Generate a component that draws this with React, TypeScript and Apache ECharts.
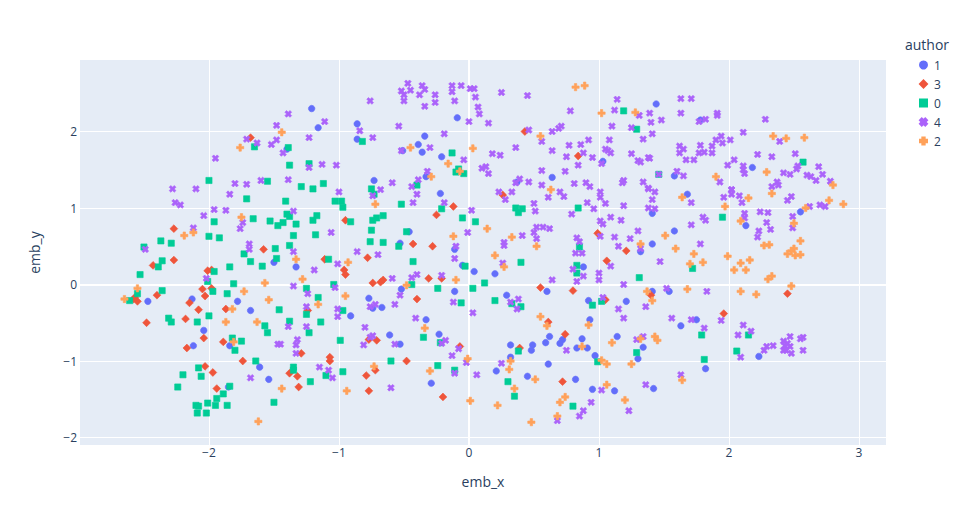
import React, { useEffect, useRef } from "react";
import * as echarts from "echarts";

const xTicks = [-2, -1, 0, 1, 2, 3];
const yTicks = [-2, -1, 0, 1, 2];
const legendOrder = ["1", "3", "0", "4", "2"];

const author1 = [
  [-1.4,1.77],[-1.21,2.3],[-1.16,2.05],[-.86,2.1],[-.86,1.9],[-.34,1.94],[-.39,1.83],[-.36,1.73],[-.21,1.67],[-.09,2.18],[-.51,1.75],[-.33,1.41],[-.73,1.36],
  [1.44,2.36],[1.03,1.61],[.64,1.4],[.37,1.34],[1.58,1.42],[1.78,2.15],[2.18,1.53],
  [-1.5,.29],[-2.47,-.22],[-2.13,-.19],[-1.78,-.22],[-1.68,-.34],
  [-.22,1.19],[-.46,.69],[-.53,.54],[-.11,.46],[-.05,.25],[.04,.17],[-1.33,.23],[-.52,-.06],[-.11,-.09],[-.77,-.18],[-.74,-.31],[-.67,-.3],[-.91,-.41],
  [1.41,.93],[1.58,.7],[1.41,.53],[1.32,.43],[.88,.23],[.2,.14],[.6,-.09],[.29,-.14],[.92,-.21],[1.21,-.22],[1.41,-.09],[1.54,-.09],[1.68,1.18],
  [2.55,.95],[2.13,.77],
  [-2.04,-.6],[-2.12,-.8],[-1.84,-.8],[-1.61,-1.08],[-1.54,-1.24],[-1.85,-1.34],
  [-.61,-.66],[-.53,-.78],[-.33,-.46],[-.23,-.65],[-.29,-1.29],
  [.93,-.46],[.62,-.68],[.72,-.72],[.7,-.77],[.59,-.76],[.49,-.79],[.48,-.86],[.32,-.79],[.32,-.95],[.87,-.71],[.83,-.83],[.91,-.83],[1.14,-.68],[1.34,-.82],[1.3,-.97],[.97,-.93],[.61,-1.04],[.21,-1.13],[.45,-1.2],[.82,-1.24],[.95,-1.37],[1.12,-1.39],[1.42,-1.36],[1.63,-.54],
  [1.75,-.46],[2.23,-.94],[1.82,-1.1],
];

const author3 = [
  [-1.68,1.92],[.43,2.0],[.84,1.68],
  [-2.27,.73],[-1.58,.46],[-2.27,.32],[-2.43,.25],[-2.01,.18],[-1.98,.19],[-2.05,-.06],[-1.98,-.05],[-2.03,-.15],[-2.4,-.14],[-2.57,-.17],[-2.55,-.22],[-2.58,-.19],[-2.15,-.24],[-2.08,-.33],[-1.87,-.32],
  [-.12,1.02],[-.25,.91],[-.95,.84],[-.43,.53],[-.28,.5],[-.78,.35],[-1.11,.33],[-.96,.19],[-.95,.13],[-.74,.02],[-.68,.03],[-.66,.06],[-.31,.08],[-.21,.08],[-.4,-.19],[-1.24,-.34],
  [.26,1.17],[.99,.67],[1.21,.44],[1.06,.31],[.55,-.04],[.8,-.08],[1.4,-.14],[1.05,-.2],
  [2.45,-.12],[1.96,-.38],
  [-2.48,-.5],[-2.18,-.45],[-2.04,-.7],[-2.17,-.83],[-1.89,-.75],[-1.74,-1.0],[-2.03,-1.07],[-1.97,-1.15],[-1.94,-1.36],[-1.38,-1.16],
  [-1.32,-1.2],[-1.31,-1.34],[-1.29,-.9],[-1.07,-.95],[-1.07,-1.0],[-.77,-.72],[-.71,-.73],[-.72,-1.12],[-.79,-1.19],[-.77,-1.39],[-.48,-1.0],[-.2,-1.47],[-.07,-.81],
  [.61,-.49],[.74,-.65],[.39,-.83],[.72,-1.27],
];

const author0 = [
  [-1.65,1.8],[-1.39,1.79],[-1.38,1.56],[-2.0,1.36],[-1.55,1.35],
  [-.82,1.87],[-1.23,1.58],[-.13,1.72],[-.08,1.51],[-.1,1.47],[-.04,1.45],[-1.29,1.28],[-1.2,1.25],[-1.12,1.32],[-.75,1.25],[-.4,1.3],
  [1.19,2.27],[1.29,2.03],[1.46,1.44],[2.57,1.6],
  [-1.71,1.12],[-1.41,1.09],[-1.4,.92],[-1.66,.86],[-1.96,.82],[-1.53,.83],[-1.43,.81],[-1.47,.77],[-2.0,.63],[-1.92,.61],[-2.37,.57],[-2.29,.54],[-2.5,.49],[-1.49,.47],[-1.38,.51],[-1.73,.4],[-2.36,.31],[-2.39,.23],[-1.48,.34],[-1.68,.3],[-1.84,.23],[-1.59,.24],[-1.96,.17],[-2.53,.13],[-2.01,.04],[-1.81,.01],[-1.97,-.09],[-1.86,-.12],[-2.36,-.08],[-2.55,-.12],[-2.61,-.21],[-1.46,-.33],[-2.0,-.41],
  [-.73,1.18],[-1.03,1.09],[-.98,1.09],[-.97,1.01],[-.52,1.05],[-.21,.99],[-1.38,.89],[-1.33,.79],[-1.2,.84],[-1.17,.9],[-1.35,.64],[-1.18,.65],[-.74,.84],[-.71,.87],[-.66,.9],[-.91,.82],[-.75,.71],[-.76,.56],[-.66,.55],[-.54,.5],[-.48,.69],[-1.08,.33],[-.43,.3],[-.05,.87],[.05,.82],[-.03,.24],[-1.04,0],[-1.25,-.05],[-.44,0],[-.24,-.05],[.03,-.05],[.12,.02],[-1.16,-.17],[-.06,-.24],[-.97,-.34],[-1.25,-.39],
  [.36,1.0],[.41,.99],[.38,.94],[.84,1.0],[.85,.49],[.4,.29],[.83,.25],[.83,.15],[1.31,.09],[.2,-.21],[.33,-.25],[.4,-.29],[.95,-.27],[1.02,-.22],
  [1.95,.88],[1.72,.21],
  [-2.31,-.44],[-2.29,-.49],[-2.09,-.49],[-1.57,-.54],[-1.38,-.48],[-1.55,-.63],[-1.82,-.7],[-1.75,-.74],[-1.8,-.86],[-1.64,-1.0],[-2.08,-1.09],[-2.2,-1.18],[-2.06,-1.2],[-2.24,-1.34],[-1.84,-1.33],[-1.89,-1.43],[-1.94,-1.49],[-2.01,-1.55],[-1.95,-1.58],[-1.86,-1.58],[-2.1,-1.58],[-2.08,-1.59],[-2.09,-1.68],[-2.02,-1.68],[-1.5,-1.54],
  [-1.14,-.49],[-1.23,-.63],[-.99,-.73],[-.35,-.69],[-.22,-.76],[-.6,-1.0],[-1.35,-1.08],[-1.35,-1.12],[-.97,-1.14],[-1.1,-1.19],[-1.22,-1.27],[-.24,-1.06],[-.11,-1.12],
  [.38,-.87],[.99,-1.01],[1.29,-.89],[.3,-1.27],[.35,-1.46],[.8,-1.59],
  [1.79,-.66],[2.15,-.66],[2.06,-.87],[1.81,-.98],
];

const author4 = [
  [-1.39,2.23],[-1.48,2.08],[-1.71,1.9],[-1.63,1.85],[-1.52,1.83],[-1.48,1.89],[-1.43,1.72],[-1.95,1.65],[-1.8,1.32],[-1.71,1.31],[-1.6,1.36],[-1.39,1.37],[-2.28,1.25],[-2.1,1.25],
  [-.47,2.63],[-.36,2.6],[-.34,2.55],[-.45,2.54],[-.52,2.53],[-.5,2.48],[-.38,2.48],[-.5,2.4],[-.76,2.4],[-.34,2.33],[-.26,2.48],[-.26,2.38],[-.13,2.6],[-.13,2.52],[-.06,2.6],[.01,2.56],[.04,2.56],[-.11,2.4],[.05,2.45],[.07,2.32],[.08,2.23],[0,2.13],[.15,2.11],[-1.11,2.13],[-.54,2.07],[-.84,2.01],[-.74,1.92],[-.19,1.97],[-1.23,1.92],[-.3,1.79],[-.52,1.75],[-.04,1.63],[-1.23,1.53],[-1.13,1.57],[-1.02,1.56],[.1,1.52],[.13,1.54],[.15,1.45],[-.32,1.48],[-.39,1.37],[-.59,1.33],[-.44,1.28],[-.68,1.24],
  [.25,2.51],[.45,2.47],[.78,2.27],[1.14,2.42],[1.12,2.28],[1.63,2.43],[1.31,2.21],[1.39,2.24],[1.63,2.24],[1.4,2.12],[1.48,2.15],[1.1,2.07],[1.25,2.05],[.46,2.02],[.64,2.0],[.69,2.04],[.71,2.07],[.56,1.87],[1.41,1.97],[1.34,1.9],[1.08,1.89],[.92,1.89],[.86,1.83],[.77,1.82],[.36,1.79],[.64,1.75],[.18,1.71],[.24,1.69],[.88,1.72],[.75,1.67],[.95,1.66],[1.05,1.77],[1.07,1.75],[1.09,1.72],[1.25,1.71],[1.3,1.62],[1.32,1.6],[1.38,1.66],[1.39,1.65],[1.62,1.81],[1.65,1.77],[1.62,1.72],[1.67,1.63],[.84,1.56],[1.02,1.58],[.56,1.49],[.74,1.48],[1.6,1.48],[1.65,1.42],[1.46,1.44],[.39,1.38],[.36,1.33],[.46,1.34],[.56,1.3],[.81,1.32],[.9,1.33],[.93,1.28],[1.19,1.36],[1.18,1.33],[1.34,1.34],[1.38,1.26],
  [1.71,2.43],[1.91,2.24],[1.91,2.21],[1.82,2.16],[1.77,2.13],[2.28,2.16],[2.11,1.99],[1.94,1.94],[1.9,1.89],[1.95,1.85],[2.01,1.89],[1.78,1.82],[1.87,1.81],[1.77,1.72],[1.81,1.73],[1.87,1.72],[1.73,1.63],[2.04,1.63],[1.99,1.56],[2.11,1.55],[2.11,1.5],[2.12,1.45],[1.93,1.34],[2.02,1.24],[2.22,1.7],[2.33,1.67],[2.39,1.87],[2.51,1.71],[2.69,1.54],[2.53,1.55],[2.52,1.51],[2.42,1.46],[2.47,1.44],[2.6,1.43],[2.63,1.41],[2.72,1.44],[2.67,1.36],[2.78,1.35],[2.37,1.34],[2.38,1.3],[2.33,1.28],
  [-1.84,1.18],[-2.26,1.07],[-2.22,1.04],[-1.96,.98],[-1.87,.97],[-2.04,.9],[-1.74,.81],[-1.76,.73],[-2.12,.74],[-2.49,.46],[-1.69,.53],[-1.69,.46],[-2.02,.08],
  [-1.0,1.21],[-.74,1.16],[-.4,1.18],[-.43,1.07],[-.19,1.07],[.02,.97],[-1.35,.96],[-1.06,.68],[-.01,.68],[-.1,.5],[-.86,.43],[-.7,.39],[-1.35,.43],[-.11,.34],[-1.01,.27],[-1.19,.19],[-.59,.08],[-.44,.09],[-.4,.13],[-.21,.12],[-1.35,-.02],[-1.03,-.04],[-1.24,-.12],[-.53,-.14],[-.57,-.26],[-.72,-.26],[-.76,-.29],[-.12,-.23],[-1.25,-.29],[-1.01,-.32],[.03,-.37],
  [.23,1.21],[.33,1.21],[.28,1.11],[.7,1.21],[.73,1.15],[.61,1.14],[.5,1.06],[.51,.96],[.91,1.07],[.96,.99],[1.01,1.21],[1.01,1.14],[1.05,1.06],[1.19,1.03],[1.38,1.25],[1.43,1.21],[1.41,1.11],[1.38,1.0],[1.43,.99],[.79,.92],[1.09,.88],[1.17,.84],[1.01,.83],[1.03,.79],[1.3,.7],[.52,.75],[.57,.75],[.62,.73],[.5,.68],[.41,.64],[.52,.6],[.83,.61],[.85,.56],[1.01,.63],[1.12,.62],[1.24,.6],[.27,.55],[.27,.51],[1.15,.5],[1.32,.47],[.82,.41],[.87,.41],[1.47,.3],[.26,.28],[1.09,.24],[.8,.2],[.88,.11],[1,.15],[1,.06],[.64,.06],[.83,.04],[1.19,0],[1.52,-.05],[.38,-.19],[.32,-.23],[.37,-.32],[1.03,-.17],[1.15,-.32],[1.36,-.29],[1.71,1.07],[1.71,.78],
  [2.02,1.24],[2.02,1.18],[1.96,1.14],[2.08,1.16],[2.1,1.07],[2.45,1.1],[2.48,1.15],[2.62,1.02],[2.7,1.04],[2.74,1.02],[2.12,.93],[2.12,.87],[1.8,.88],[1.82,.84],[2.24,.95],[2.3,.94],[2.49,.89],[2.29,.81],[2.23,.7],[2.32,.72],[2.49,.74],[2.22,.62],[1.78,.53],[1.83,-.09],
  [-1.39,-.55],[-1.47,-.78],[-1.45,-.78],[-1.68,-1.22],
  [-1.01,-.42],[-.41,-.44],[-1.25,-.55],[-.8,-.56],[-.76,-.69],[-.74,-.67],[-.81,-.79],[-.57,-.78],[-.18,-.73],[-.21,-.77],[-.08,-.84],[-.13,-.93],[-.02,-1.02],[-1.32,-.72],[-1.33,-.79],[-1.33,-.9],[-1.15,-1.08],[-1.08,-1.12],[-1.05,-1.22],[-.11,-1.16],[.06,-1.18],[-.6,-1.35],
  [1.19,-.44],[1.56,-.44],[.75,-.86],[1.29,-.72],[1.34,-.68],[.25,-1.03],[1.63,-1.18],[1.36,-1.31],[1.02,-1.38],[.94,-1.54],[1.23,-1.65],[.88,-1.65],[.85,-1.72],[.68,-1.78],
  [1.71,-.46],[1.81,-.57],[1.94,-.47],[2.11,-.53],[2.17,-.61],[2.07,-.66],[2.09,-.95],[2.27,-.86],[2.29,-.81],[2.34,-.8],[2.42,-.74],[2.47,-.68],[2.57,-.69],[2.55,-.71],[2.57,-.86],[2.45,-.77],[2.47,-.81],[2.43,-.8],[2.42,-.86],[2.44,-.86],[2.48,-.9],
];

const author2 = [
  [-1.44,1.99],[-1.76,1.79],[-.45,1.79],[.03,1.78],[-.16,1.58],[-.07,1.48],[-.29,1.41],
  [.82,2.58],[.89,2.6],[1.02,2.24],[1.28,2.25],[.55,1.94],[.63,1.24],
  [2.34,1.94],[2.44,1.91],[2.58,1.92],[2.29,1.47],[1.9,1.41],[2.8,1.3],
  [-1.75,.88],[-2.19,.64],[-2.12,.68],[-1.57,.02],[-2.55,-.05],[-1.73,-.09],[-2.65,-.19],[-1.54,-.2],[-1.82,-.32],
  [-.72,1.05],[.14,.73],[-.12,.63],[-1.33,.33],[-.93,.29],[-1.28,.07],[-.48,-.01],[-.1,.06],[-.95,-.15],[-1.16,-.26],
  [1.64,1.14],[.33,.62],[.52,.5],[.2,.38],[.27,.23],[1.51,.64],[1.32,.53],[1.59,.47],[1.37,-.09],[1.41,-.21],
  [2.15,1.13],[2.33,1.19],[1.97,1.02],[2.77,1.1],[2.88,1.05],[2.59,1.0],[2.09,.83],[2.5,.8],[2.55,.57],[2.5,.47],[2.48,.44],[2.45,.4],[2.51,.38],[2.55,.39],[2.27,.51],[2.31,.52],[1.73,.4],[1.99,.37],[2.16,.32],[2.09,.28],[1.8,.29],[1.7,.27],[2.04,.19],[2.13,.19],[2.33,.11],[2.3,.07],[2.48,-.02],[1.68,-.06],[2.09,-.09],[2.21,-.13],
  [-1.87,-.49],[-1.63,-.49],[-1.81,-.75],[-1.44,-1.36],[-1.62,-1.79],
  [-.34,-.57],[-.73,-1.07],[-.94,-1.39],[-.3,-1.13],[-.01,-.97],[.01,-1.52],
  [.55,-.42],[.6,-.54],[.92,-.53],[1.1,-.76],[.87,-.81],[1.32,-.71],[1.43,-.68],[1.45,-.73],[1.02,-.99],[1.06,-1.04],[1.25,-1.04],[.32,-1.0],[.31,-1.11],[.51,-1.24],[.35,-1.36],[1.06,-1.31],[.74,-1.47],[.7,-1.54],[1.2,-1.51],[.22,-1.58],[.68,-1.72],[.48,-1.8],[1.64,-1.25],
];

const crossPath = "path://M1.2,0.4H0.4V1.2H-0.4V0.4H-1.2V-0.4H-0.4V-1.2H0.4V-0.4H1.2Z";
const xPath = "path://M0,1L1,2L2,1L1,0L2,-1L1,-2L0,-1L-1,-2L-2,-1L-1,0L-2,1L-1,2Z";

const textColor = "#2a3f5f";
const fontFamily = "'Open Sans', sans-serif";
const minus = (v: number) => String(v).replace("-", "\u2212");

function scatter(name: string, data: number[][], color: string, symbol: string, size: number) {
  return {
    type: "scatter",
    name,
    data,
    symbol,
    symbolSize: size,
    itemStyle: { color, opacity: 1, borderColor: color, borderWidth: 0.6, borderType: "solid" },
    emphasis: { disabled: true },
    z: 3,
  };
}

export default function App() {
  const ref = useRef<HTMLDivElement>(null);
  useEffect(() => {
    const chart = echarts.init(ref.current!, undefined, { renderer: "svg" });
    const axisCommon = {
      type: "value",
      nameLocation: "middle",
      nameTextStyle: { color: textColor, fontSize: 14, fontFamily },
      axisLine: { show: false },
      splitLine: { show: true, lineStyle: { color: "#ffffff", width: 1 } },
    };
    chart.setOption({
      animation: false,
      backgroundColor: "#ffffff",
      grid: { left: 80, top: 60, width: 806, height: 385, show: true, backgroundColor: "#E5ECF6", borderWidth: 0 },
      xAxis: {
        ...axisCommon,
        name: "emb_x",
        nameGap: 29,
        min: -2.992,
        max: 3.208,
        axisTick: { show: false, customValues: xTicks },
        axisLabel: { customValues: xTicks, color: textColor, fontSize: 12, fontFamily, margin: 1, formatter: minus },
      },
      yAxis: {
        ...axisCommon,
        name: "emb_y",
        nameGap: 39,
        min: -2.098,
        max: 2.935,
        axisTick: { show: false, customValues: yTicks },
        axisLabel: { customValues: yTicks, color: textColor, fontSize: 12, fontFamily, margin: 3, formatter: minus },
      },
      legend: {
        data: legendOrder,
        orient: "vertical",
        left: 914,
        top: 52,
        itemWidth: 7,
        itemHeight: 7,
        itemGap: 3,
        selectedMode: false,
        textStyle: { color: textColor, fontSize: 12, fontFamily, padding: [0, 0, 0, 2], lineHeight: 16 },
      },
      graphic: [
        { type: "text", left: 905, top: 37, style: { text: "author", fill: textColor, font: "14px 'Open Sans', sans-serif" } },
      ],
      series: [
        {
          type: "scatter",
          data: [],
          silent: true,
          z: 1,
          markLine: {
            silent: true,
            symbol: "none",
            label: { show: false },
            lineStyle: { color: "#ffffff", width: 2, type: "solid" },
            data: [{ xAxis: 0 }, { yAxis: 0 }],
            z: 1,
          },
        },
        scatter("1", author1, "#636efa", "circle", 6.5),
        scatter("3", author3, "#EF553B", "diamond", 7.8),
        scatter("0", author0, "#00cc96", "rect", 6.2),
        scatter("4", author4, "#ab63fa", xPath, 6.8),
        scatter("2", author2, "#FFA15A", crossPath, 7.2),
      ],
    });
    return () => chart.dispose();
  }, []);
  return <div ref={ref} style={{ position: "absolute", left: 0, top: 0, width: 966, height: 525 }} />;
}
